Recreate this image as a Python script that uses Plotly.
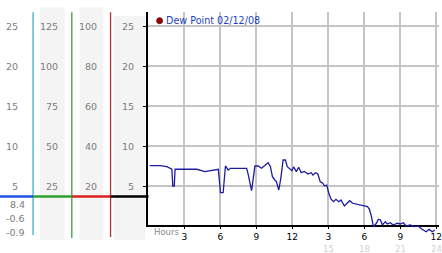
import plotly.graph_objects as go

# ---------------- data ----------------
hours = [0.10, 0.98, 1.53, 1.95, 2.03, 2.15, 2.22, 2.50, 4.02, 4.71, 5.12, 5.82,
         6.01, 6.23, 6.42, 6.64, 6.84, 7.91, 8.19, 8.33, 8.60, 8.88, 9.15, 9.43,
         9.71, 9.98, 10.17, 10.34, 10.54, 10.67, 10.87, 11.04, 11.23, 11.42, 11.58,
         11.78, 11.97, 12.11, 12.33, 12.53, 12.74, 13.00, 13.30, 13.57, 13.71, 13.94,
         14.13, 14.32, 14.54, 14.68, 14.87, 15.04, 15.23, 15.43, 15.64, 15.87, 16.06,
         16.34, 16.61, 16.78, 17.03, 17.27, 17.60, 17.94, 18.27, 18.43, 18.60, 18.76,
         19.01, 19.18, 19.35, 19.51, 19.76, 19.92, 20.17, 20.42, 20.75, 21.00, 21.25,
         21.50, 21.83, 22.16, 22.49, 22.82, 23.16, 23.41, 23.66, 23.90]
dew_point = [7.58, 7.58, 7.45, 7.13, 5.04, 5.04, 7.13, 7.13, 7.13, 6.83, 6.95, 7.13,
             4.20, 4.20, 7.54, 7.04, 7.25, 7.25, 7.25, 6.41, 4.45, 7.54, 7.54, 7.25,
             7.66, 7.95, 7.45, 6.20, 5.79, 5.58, 4.54, 6.00, 8.29, 8.29, 7.45,
             7.25, 6.95, 7.45, 6.83, 7.38, 6.70, 6.85, 6.54, 6.70, 6.41, 6.70,
             6.54, 5.58, 5.38, 5.04, 5.16, 4.13, 3.38, 3.08, 3.38, 3.08, 3.29,
             2.54, 2.88, 3.20, 2.88, 2.79, 2.66, 2.54, 2.45, 2.13, 1.20, -0.05,
             0.38, 0.88, 0.79, 0.16, 0.58, 0.29, 0.45, 0.16, 0.38, 0.29, 0.45,
             0.04, 0.16, -0.05, 0.04, -0.38, -0.68, -0.38, -0.68, -0.46]

hour_ticks = [3, 6, 9, 12, 15, 18, 21, 24]
hour_labels_top = ["3", "6", "9", "12", "3", "6", "9", "12"]
hour_labels_bottom = ["", "", "", "", "15", "18", "21", "24"]
value_ticks = [5, 10, 15, 20, 25]
col1_labels = ["5", "10", "15", "20", "25"]
col2_labels = ["25", "50", "75", "100", "125"]
col3_labels = ["20", "40", "60", "80", "100"]
col4_labels = ["5", "10", "15", "20", "25"]
stat_labels = ["8.4", "-0.6", "-0.9"]
level_value = 3.72
legend_text = "Dew Point 02/12/08"

# ---------------- layout helpers ----------------
W, H = 442, 253
def px(x):
    return x / W
def py(y):
    return 1 - y / H
def v_at(ypx):  # value at a pixel row (5 at 186.3, 8 px per unit)
    return 5 + (186.3 - ypx) / 8.0
def h_at(xpx):
    return (xpx - 149.5) / 12.07

FONT = "DejaVu Sans"
GREY_TXT = "#7c7c7c"

fig = go.Figure()
fig.add_trace(go.Scatter(x=hours, y=dew_point, mode="lines",
                         line=dict(color="#1c1ca0", width=1.3),
                         xaxis="x2", yaxis="y2", showlegend=False,
                         hoverinfo="skip"))

xrange = [h_at(149), h_at(442)]
fig.update_layout(
    width=W, height=H, autosize=False,
    margin=dict(l=0, r=0, t=0, b=0, pad=0),
    paper_bgcolor="white", plot_bgcolor="rgba(0,0,0,0)",
    font=dict(family=FONT, size=10, color="black"),
    showlegend=False,
    xaxis=dict(domain=[px(149), 1], range=xrange, tickvals=hour_ticks,
               ticktext=hour_labels_top, showgrid=True, gridcolor="#c4c4c4", gridwidth=1.5,
               showline=True, linecolor="black", linewidth=1.5,
               ticks="outside", ticklen=3, tickcolor="black", tickwidth=1,
               tickfont=dict(size=9, color="black", family=FONT),
               ticklabeloverflow="allow", tickangle=0,
               zeroline=False, anchor="y", fixedrange=True),
    yaxis=dict(domain=[py(224.7), py(12.3)], range=[v_at(224.7), v_at(12.3)],
               tickvals=value_ticks, showticklabels=False, showgrid=True,
               gridcolor="#c4c4c4", gridwidth=1.5, showline=True,
               linecolor="black", linewidth=2, ticks="outside", ticklen=3,
               tickcolor="black", zeroline=False, anchor="x", fixedrange=True),
    xaxis2=dict(domain=[px(149), 1], range=xrange, visible=False,
                anchor="y2", showgrid=False, zeroline=False),
    yaxis2=dict(domain=[py(240), py(12.3)], range=[v_at(240), v_at(12.3)],
                visible=False, anchor="x2", showgrid=False, zeroline=False),
)

shapes = []
# grey bands of the unit columns
for x0, x1, y0 in [(40, 65, 7.3), (80, 104, 7.3), (115, 146, 16)]:
    shapes.append(dict(type="rect", xref="paper", yref="paper",
                       x0=px(x0), x1=px(x1), y0=py(240), y1=py(y0),
                       fillcolor="#f4f4f4", line=dict(width=0), layer="below"))
# coloured column dividers
for xc, yb, col in [(33.3, 235, "#3aaed0"), (72.3, 238, "#3a9e3a"), (111.3, 237, "#b83030")]:
    shapes.append(dict(type="line", xref="paper", yref="paper",
                       x0=px(xc), x1=px(xc), y0=py(12.3), y1=py(yb),
                       line=dict(color=col, width=1.3)))
# level line across the columns
for x0, x1, col in [(0, 33.3, "#2050e0"), (33.3, 72.3, "#2ea02e"),
                    (72.3, 111.3, "#dd2020"), (111.3, 149.5, "black")]:
    shapes.append(dict(type="line", xref="paper", yref="y",
                       x0=px(x0), x1=px(x1), y0=level_value, y1=level_value,
                       line=dict(color=col, width=2.6)))
# legend dot
shapes.append(dict(type="circle", xref="paper", yref="paper",
                   x0=px(157.7), x1=px(163.7), y0=py(23.7), y1=py(17.7),
                   fillcolor="#a00000", line=dict(color="#500000", width=0.8)))
fig.update_layout(shapes=shapes)

ann = []
for labels, xr in [(col1_labels, 20.5), (col2_labels, 60.5), (col3_labels, 99.5), (col4_labels, 137)]:
    for v, lab in zip(value_ticks, labels):
        ann.append(dict(text=lab, xref="paper", yref="y", x=px(xr), y=v,
                        xanchor="right", yanchor="middle", showarrow=False,
                        font=dict(size=9.5, color=GREY_TXT, family=FONT)))
for lab, yc in zip(stat_labels, [204.3, 218.3, 232.3]):
    ann.append(dict(text=lab, xref="paper", yref="paper", x=px(27), y=py(yc),
                    xanchor="right", yanchor="middle", showarrow=False,
                    font=dict(size=9.5, color=GREY_TXT, family=FONT)))
# secondary (24h) hour labels under the afternoon ticks
for h, lab in zip(hour_ticks, hour_labels_bottom):
    if lab:
        ann.append(dict(text=lab, xref="x", yref="paper", x=h, y=py(242.5),
                        xanchor="center", yanchor="top", showarrow=False,
                        borderpad=0,
                        font=dict(size=8.5, color="#d2d2d2", family=FONT)))
ann.append(dict(text="Hours", xref="paper", yref="paper", x=px(153.5), y=py(232),
                xanchor="left", yanchor="middle", showarrow=False,
                font=dict(size=8.5, color="#8a8a8a", family=FONT)))
ann.append(dict(text=legend_text, xref="paper", yref="paper", x=px(165.5), y=py(20.7),
                xanchor="left", yanchor="middle", showarrow=False,
                font=dict(size=9.6, color="#1f3fbf", family=FONT)))
fig.update_layout(annotations=ann)

fig.write_html("out.html")
